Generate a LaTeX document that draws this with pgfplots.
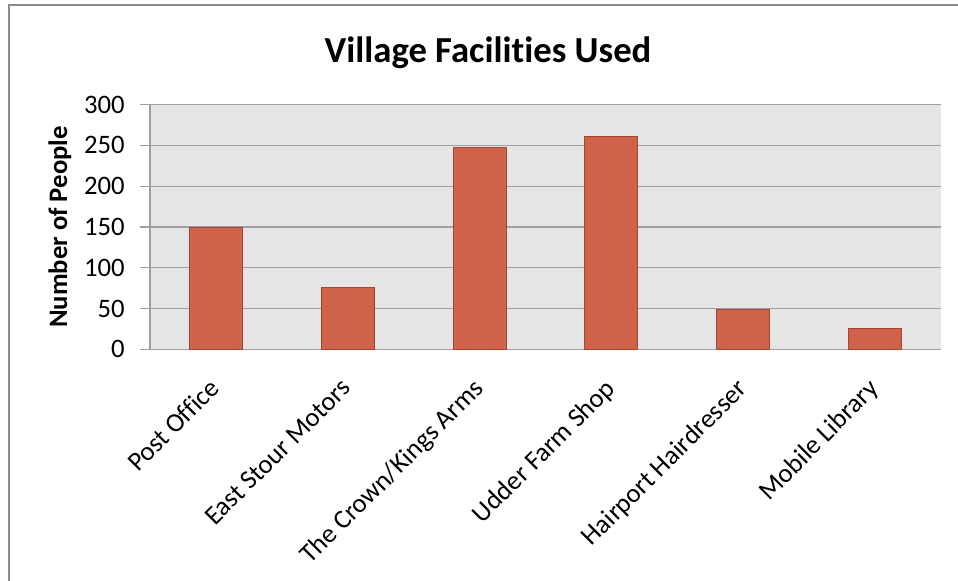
\documentclass[border=0pt]{standalone}
\usepackage{fontspec}
\setmainfont{Carlito}[Ligatures=NoCommon]
\usepackage{pgfplots}
\pgfplotsset{compat=1.18}
\definecolor{barfill}{RGB}{208,98,74}
\definecolor{bardraw}{RGB}{160,70,50}
\definecolor{plotbg}{RGB}{229,229,229}
\definecolor{gridc}{RGB}{160,160,160}
\definecolor{framec}{RGB}{140,140,140}
\begin{document}
\begin{tikzpicture}[x=0.75pt,y=0.75pt]
\path[use as bounding box] (0,0) rectangle (958,581);
\draw[framec, line width=1.5pt] (9,0) -- (9,576) -- (958,576);
\begin{axis}[
  at={(112.5pt,173.8pt)}, anchor=south west,
  scale only axis, width=593.25pt, height=183.45pt,
  xmin=-0.5, xmax=5.5, ymin=0, ymax=300,
  ytick={0,50,...,300},
  xtick=data,
  xticklabels={Post Office,East Stour Motors,The Crown/Kings Arms,Udder Farm Shop,Hairport Hairdresser,Mobile Library},
  axis lines=left,
  axis line style={-, gridc, line width=1pt},
  every outer x axis line/.append style={-},
  every outer y axis line/.append style={-},
  axis background/.style={fill=plotbg},
  ymajorgrids, grid style={gridc, line width=1pt},
  ytick align=outside, major tick length=7.5pt,
  ytick style={gridc, line width=1pt},
  xtick style={draw=none},
  tick label style={font=\fontsize{20}{22}\selectfont},
  yticklabel style={xshift=-8pt},
  /pgf/number format/assume math mode=true,
  xticklabel style={xshift=-6pt, yshift=-17pt, rotate=45, anchor=north east, inner sep=0pt},
  ylabel={Number of People},
  ylabel style={at={(axis description cs:-0.114,0.5)}, anchor=center, font=\bfseries\fontsize{20}{22}\selectfont},
  title={Village Facilities Used},
  title style={at={(axis description cs:0.4273,1.178)}, anchor=center, font=\bfseries\fontsize{27.5}{30}\selectfont},
  clip=false,
]
\addplot[ybar, bar width=39.75pt, fill=barfill, draw=bardraw, line width=0.75pt]
  coordinates {(0,149) (1,76) (2,247) (3,261) (4,49) (5,25)};
\end{axis}
\end{tikzpicture}
\end{document}
